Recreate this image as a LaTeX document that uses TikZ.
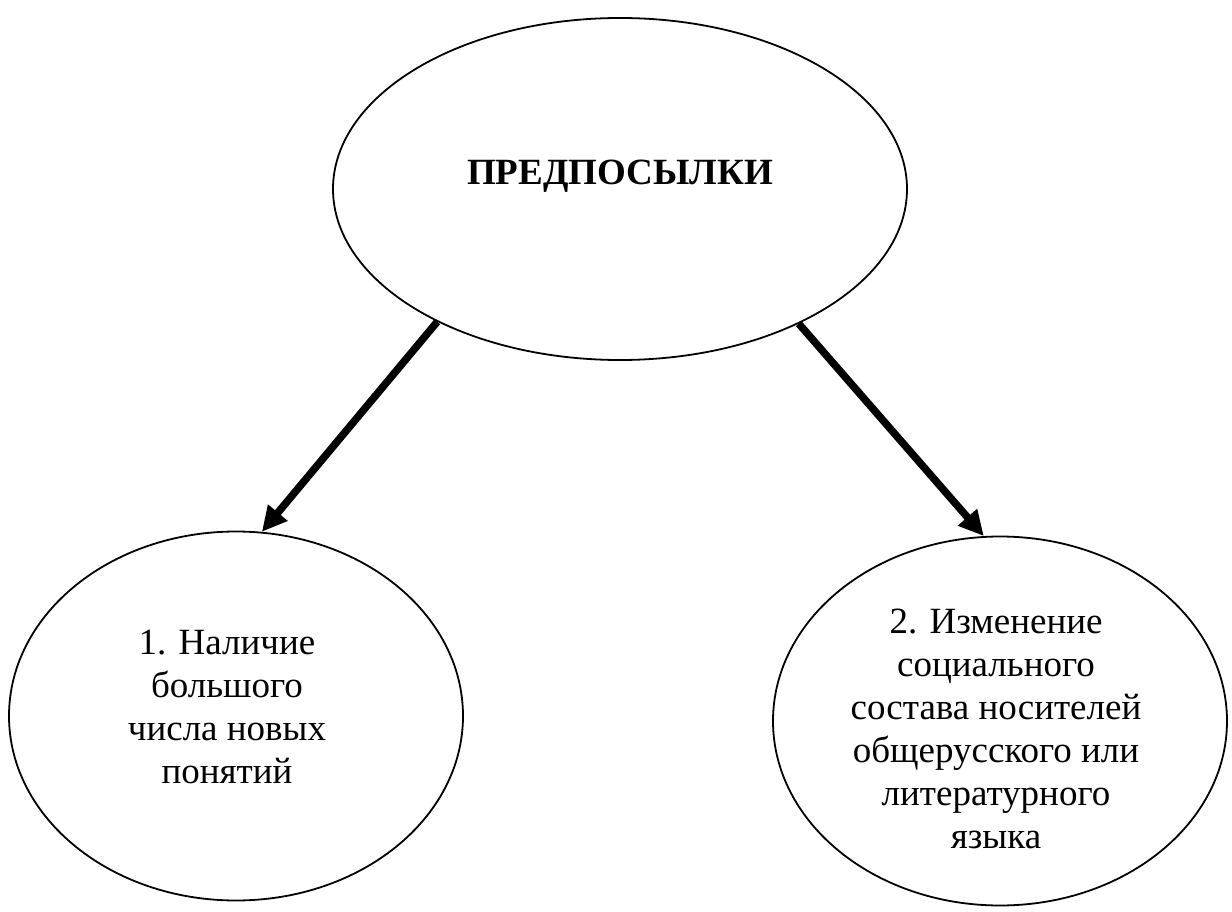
\documentclass[tikz,border=0pt]{standalone}
\usepackage{fontspec}
\setmainfont{Liberation Serif}
\usetikzlibrary{shapes.geometric,arrows.meta}
\tikzset{
  oval/.style={draw, ellipse, line width=1.8pt, inner sep=0pt},
  label text/.style={align=center, inner sep=0pt, font=\fontsize{37}{43}\selectfont},
  link/.style={line width=7.5pt, -{Triangle[length=25pt,width=24pt]}}
}
\begin{document}
\begin{tikzpicture}[x=1pt,y=1pt]
\useasboundingbox[fill=white] (0,0) rectangle (1232,-912);
\node[oval, minimum width=574pt, minimum height=342pt] (top) at (620,-189) {};
\node[oval, minimum width=454pt, minimum height=369pt] (left) at (236,-716) {};
\node[oval, minimum width=454pt, minimum height=369pt] (right) at (1000,-721) {};
\node[label text, font=\fontsize{37}{43}\selectfont\bfseries, anchor=base]
  (toptext) at (620,-185) {ПРЕДПОСЫЛКИ};
\node[label text, anchor=north] (lefttext) at (227,-630)
  {1. Наличие\\большого\\числа новых\\понятий};
\node[label text, anchor=north] (righttext) at (996,-609)
  {2. Изменение\\социального\\состава носителей\\общерусского или\\литературного\\языка};
\draw[link] (top.216.3) -- (left.82.8);
\draw[link] (top.323.8) -- (right.95.9);
\end{tikzpicture}
\end{document}
